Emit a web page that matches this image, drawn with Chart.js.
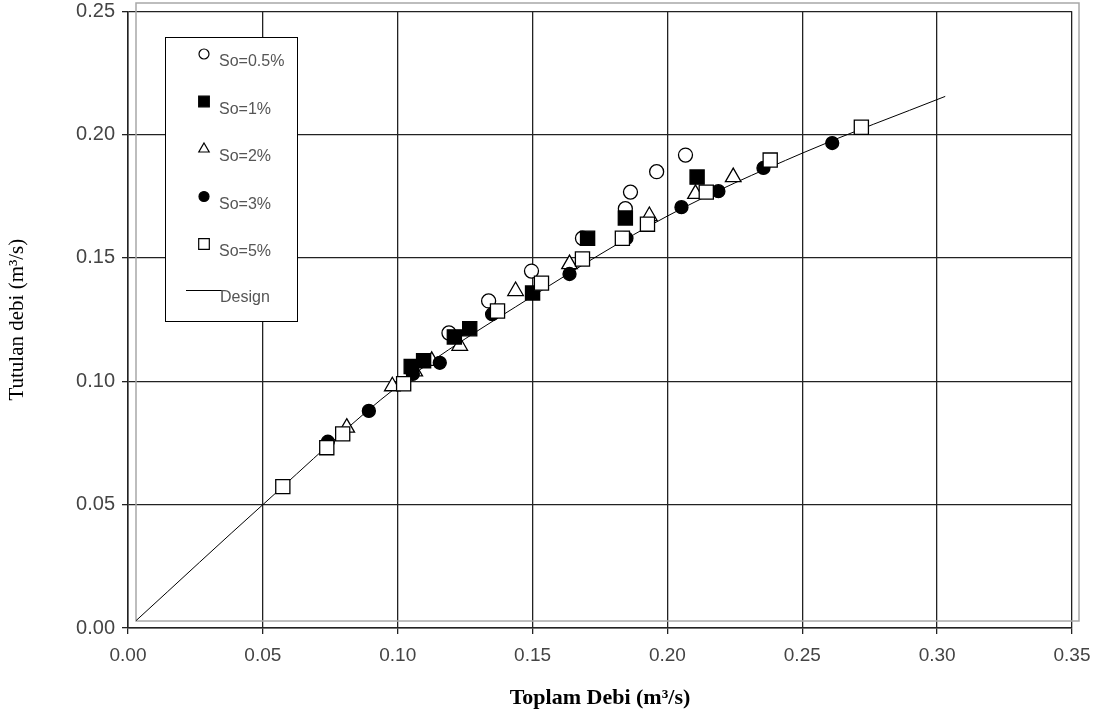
<!DOCTYPE html>
<html>
<head>
<meta charset="utf-8">
<title>Tutulan debi - Toplam debi</title>
<script src="https://cdn.jsdelivr.net/npm/chart.js@4.4.1/dist/chart.umd.min.js"></script>
<style>
    body { margin: 0; background: #fff; }
    #wrap { width: 1103px; height: 726px; }
</style>
</head>
<body>
<div id="wrap"><canvas id="mycanvas" width="1103" height="726"></canvas></div>
<script>
// measured points, So = channel slope
var so05X = [0.119, 0.1337, 0.1496, 0.1685, 0.1844, 0.1863, 0.196, 0.2067];
var so05Y = [0.1196, 0.1326, 0.1447, 0.158, 0.170, 0.1767, 0.185, 0.1917];

var so1X = [0.105, 0.1096, 0.121, 0.1267, 0.150, 0.1704, 0.1844, 0.211];
var so1Y = [0.106, 0.1083, 0.118, 0.1213, 0.1358, 0.158, 0.1662, 0.1828];

var so2X = [0.0811, 0.098, 0.1063, 0.1126, 0.123, 0.1437, 0.1637, 0.1933, 0.2104, 0.2244];
var so2Y = [0.0812, 0.098, 0.104, 0.1083, 0.1144, 0.1366, 0.1475, 0.167, 0.176, 0.1828];

var so3X = [0.0741, 0.0893, 0.1056, 0.1156, 0.135, 0.1637, 0.1848, 0.2052, 0.2189, 0.2356, 0.2611];
var so3Y = [0.0755, 0.088, 0.103, 0.1075, 0.1272, 0.1435, 0.158, 0.1706, 0.1771, 0.1865, 0.1966];

var so5X = [0.0574, 0.0737, 0.0796, 0.1022, 0.137, 0.1533, 0.1685, 0.1833, 0.1926, 0.2144, 0.2381, 0.2719];
var so5Y = [0.0573, 0.0731, 0.0787, 0.099, 0.1285, 0.1398, 0.1496, 0.158, 0.1637, 0.1767, 0.1897, 0.203];

// design curve
var designX = [0.003, 0.05, 0.10, 0.15, 0.20, 0.25, 0.303];
var designY = [0.003, 0.05, 0.098, 0.1345, 0.167, 0.1925, 0.2155];

var xTicks = [0, 0.05, 0.10, 0.15, 0.20, 0.25, 0.30, 0.35];
var yTicks = [0, 0.05, 0.10, 0.15, 0.20, 0.25];

function pairs(xs, ys) {
    var out = [];
    for (var i = 0; i < xs.length; i++) {
        out.push({ x: xs[i], y: ys[i] });
    }
    return out;
}

// lr = marker size in the legend box
var series = [
    { label: 'So=0.5%', x: so05X, y: so05Y, style: 'circle', fill: '#fff', r: 7, lr: 5, order: 5 },
    { label: 'So=1%', x: so1X, y: so1Y, style: 'rect', fill: '#000', r: 10, lr: 7.5, order: 2 },
    { label: 'So=2%', x: so2X, y: so2Y, style: 'triangle', fill: '#fff', r: 9, lr: 6, order: 4 },
    { label: 'So=3%', x: so3X, y: so3Y, style: 'circle', fill: '#000', r: 6.5, lr: 5, order: 3 },
    { label: 'So=5%', x: so5X, y: so5Y, style: 'rect', fill: '#fff', r: 10, lr: 7.5, order: 1 }
];

var datasets = series.map(function(s) {
    return {
        label: s.label,
        data: pairs(s.x, s.y),
        pointStyle: s.style,
        pointRadius: s.r,
        pointBackgroundColor: s.fill,
        pointBorderColor: '#000',
        pointBorderWidth: 1.3,
        showLine: false,
        order: s.order
    };
});

datasets.push({
    label: 'Design',
    data: pairs(designX, designY),
    showLine: true,
    borderColor: '#000',
    borderWidth: 1,
    pointRadius: 0,
    cubicInterpolationMode: 'monotone',
    order: 6
});

// grey frame, offset from the plot area
var framePlugin = {
    id: 'frame',
    beforeDatasetsDraw: function(chart) {
        var ctx = chart.ctx;
        ctx.save();
        ctx.strokeStyle = '#a8a8a8';
        ctx.lineWidth = 1.5;
        ctx.strokeRect(136, 3, 943, 618);
        ctx.restore();
    }
};

// legend box inside the plot
var boxLegend = {
    id: 'boxLegend',
    afterDraw: function(chart) {
        var ctx = chart.ctx;
        ctx.save();
        ctx.fillStyle = '#fff';
        ctx.fillRect(165, 37, 132, 284);
        ctx.strokeStyle = '#000';
        ctx.lineWidth = 1;
        ctx.strokeRect(165.5, 37.5, 132, 284);

        ctx.font = '16px "Liberation Sans", Arial, sans-serif';
        ctx.textBaseline = 'middle';
        ctx.textAlign = 'left';
        for (var i = 0; i < series.length; i++) {
            var s = series[i];
            var my = 54 + i * 47.5;
            ctx.fillStyle = s.fill;
            ctx.strokeStyle = '#000';
            ctx.lineWidth = 1.2;
            Chart.helpers.drawPoint(ctx, { pointStyle: s.style, radius: s.lr, rotation: 0, borderWidth: 1.2 }, 204, my);
            ctx.fillStyle = '#555';
            ctx.fillText(s.label, 219, my + 8);
        }
        ctx.strokeStyle = '#000';
        ctx.lineWidth = 1;
        ctx.beginPath();
        ctx.moveTo(186, 290.5);
        ctx.lineTo(222, 290.5);
        ctx.stroke();
        ctx.fillStyle = '#555';
        ctx.fillText('Design', 220, 298);
        ctx.restore();
    }
};

var tickFont = { family: '"Liberation Sans", Arial, sans-serif', size: 19 };

var ctx = document.getElementById('mycanvas');
var chart = new Chart(ctx, {
    type: 'scatter',
    data: { datasets: datasets },
    options: {
        responsive: false,
        animation: false,
        layout: { padding: { top: 10, right: 31, left: 0, bottom: 0 } },
        scales: {
            x: {
                type: 'linear',
                min: 0,
                max: 0.35,
                afterBuildTicks: function(scale) {
                    scale.ticks = xTicks.map(function(v) { return { value: v }; });
                },
                afterFit: function(scale) {
                    scale.height = 98;
                    scale.paddingLeft = 0;
                    scale.paddingRight = 0;
                },
                ticks: {
                    color: '#444',
                    font: tickFont,
                    padding: 10,
                    maxRotation: 0,
                    callback: function(v) { return Number(v).toFixed(2); }
                },
                grid: { color: '#222', lineWidth: 1.3, tickLength: 6 },
                border: { color: '#222', width: 1.5 },
                title: {
                    display: true,
                    text: 'Toplam Debi (m³/s)',
                    color: '#000',
                    font: { family: '"Liberation Serif", "Times New Roman", serif', size: 22, weight: 'bold' },
                    padding: { top: 0, bottom: 14 }
                }
            },
            y: {
                type: 'linear',
                min: 0,
                max: 0.25,
                afterBuildTicks: function(scale) {
                    scale.ticks = yTicks.map(function(v) { return { value: v }; });
                },
                afterFit: function(scale) {
                    scale.width = 128;
                    scale.paddingTop = 0;
                    scale.paddingBottom = 0;
                },
                ticks: {
                    color: '#444',
                    font: { family: tickFont.family, size: 20 },
                    padding: 7,
                    callback: function(v) { return Number(v).toFixed(2); }
                },
                grid: { color: '#222', lineWidth: 1.3, tickLength: 6 },
                border: { color: '#222', width: 1.5 },
                title: {
                    display: true,
                    text: 'Tutulan debi (m³/s)',
                    color: '#000',
                    font: { family: '"Liberation Serif", "Times New Roman", serif', size: 21 },
                    padding: { top: 5, bottom: 0 }
                }
            }
        },
        plugins: {
            legend: { display: false },
            tooltip: { enabled: false }
        }
    },
    plugins: [framePlugin, boxLegend]
});
</script>
</body>
</html>
